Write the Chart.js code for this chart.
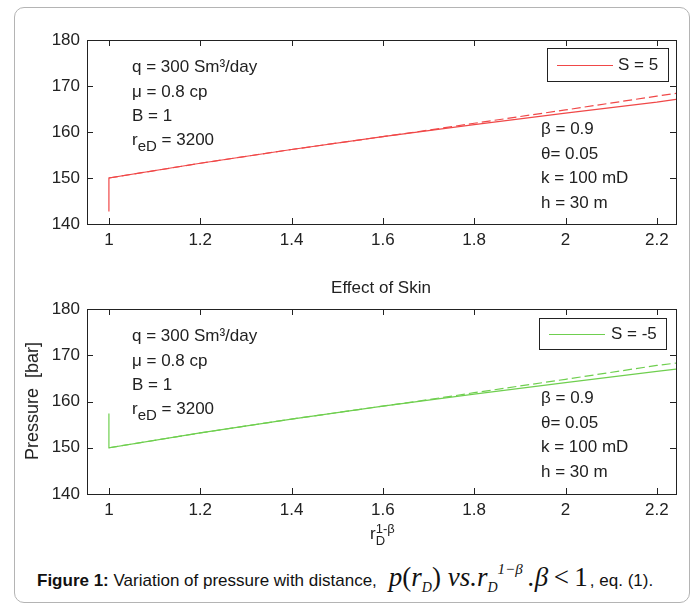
<!DOCTYPE html>
<html>
<head>
<meta charset="utf-8">
<script src="https://cdn.jsdelivr.net/npm/chart.js@4.4.1/dist/chart.umd.min.js"></script>
<style>
  body { margin: 0; background: #fff; }
  #wrap { position: relative; width: 696px; height: 605px; overflow: hidden; font-family: "Liberation Sans", Arial, sans-serif; color: #222; }
  .frame { position: absolute; left: 14px; top: 7px; width: 676px; height: 596px; border: 1px solid #b4b4b4; border-radius: 10px; box-sizing: border-box; }
  canvas { position: absolute; left: 0; }
  .t { position: absolute; font-size: 17px; line-height: 20px; white-space: nowrap; }
  .t sub { font-size: 15px; vertical-align: -6px; line-height: 0; }
  .legend { position: absolute; border: 1px solid #222; background: #fff; box-sizing: border-box; }
  .legend .ln { position: absolute; height: 0; border-top: 1px solid; }
  .legend .lt { position: absolute; font-size: 17px; line-height: 20px; }
  .caption { position: absolute; left: 37px; top: 562px; font-size: 17px; white-space: nowrap; color: #111; display: flex; align-items: baseline; }
  .math { font-family: "Liberation Serif", "DejaVu Serif", serif; font-style: italic; font-size: 27px; margin: 0 2px 0 12px; }
  .math .up { font-style: normal; }
  .math sub { font-size: 14px; vertical-align: -6px; line-height: 0; }
  .math sup { font-size: 15px; vertical-align: 12px; line-height: 0; }
</style>
</head>
<body>
<div id="wrap">
  <div class="frame"></div>
  <canvas id="topChart" width="696" height="260" style="top:0"></canvas>
  <canvas id="bottomChart" width="696" height="260" style="top:270px"></canvas>

  <!-- top panel notes -->
  <div class="t" style="left:132px;top:57px">q = 300 Sm³/day</div>
  <div class="t" style="left:132px;top:82px">μ = 0.8 cp</div>
  <div class="t" style="left:132px;top:106px">B = 1</div>
  <div class="t" style="left:132px;top:130px">r<sub>eD</sub> = 3200</div>
  <div class="t" style="left:541px;top:119px">β = 0.9</div>
  <div class="t" style="left:541px;top:144px">θ= 0.05</div>
  <div class="t" style="left:541px;top:168px">k = 100 mD</div>
  <div class="t" style="left:541px;top:193px">h = 30 m</div>
  <div class="legend" style="left:547px;top:48px;width:122px;height:34px">
    <div class="ln" style="left:9px;top:16px;width:56px;border-color:#f04848"></div>
    <div class="lt" style="left:70px;top:6px">S = 5</div>
  </div>

  <div class="t" style="left:0;width:762px;text-align:center;top:278px">Effect of Skin</div>

  <!-- bottom panel notes -->
  <div class="t" style="left:132px;top:326px">q = 300 Sm³/day</div>
  <div class="t" style="left:132px;top:351px">μ = 0.8 cp</div>
  <div class="t" style="left:132px;top:375px">B = 1</div>
  <div class="t" style="left:132px;top:399px">r<sub>eD</sub> = 3200</div>
  <div class="t" style="left:541px;top:388px">β = 0.9</div>
  <div class="t" style="left:541px;top:413px">θ= 0.05</div>
  <div class="t" style="left:541px;top:437px">k = 100 mD</div>
  <div class="t" style="left:541px;top:462px">h = 30 m</div>
  <div class="legend" style="left:539px;top:318px;width:128px;height:32px">
    <div class="ln" style="left:9px;top:15px;width:56px;border-color:#6fcf4f"></div>
    <div class="lt" style="left:71px;top:5px">S = -5</div>
  </div>

  <div class="t" style="left:32px;top:401px;font-size:18px;transform:translate(-50%,-50%) rotate(-90deg)">Pressure&nbsp;&nbsp;[bar]</div>
  <div class="t" style="left:370px;top:523px">r<span style="display:inline-block;vertical-align:-6px;line-height:12px;font-size:13px;"><span style="display:block">1-β</span><span style="display:block">D</span></span></div>

  <div class="caption">
    <b>Figure 1:</b>&nbsp;Variation of pressure with distance,
    <span class="math">p<span class="up">(</span>r<sub>D</sub><span class="up">)</span> vs.r<sub>D</sub><sup>1−β</sup>&thinsp;.β<span class="up">&thinsp;&lt;&thinsp;1</span></span>, eq. (1).
  </div>
</div>

<script>
// axis ticks
const xTicks = [1, 1.2, 1.4, 1.6, 1.8, 2, 2.2];
const xTickLabels = ["1", "1.2", "1.4", "1.6", "1.8", "2", "2.2"];
const yTicks = [140, 150, 160, 170, 180];

// r_D^(1-beta) values
const rD = [1, 1, 1.2, 1.4, 1.6, 1.8, 2.0, 2.2, 2.242];
const rDDash = [1, 1.2, 1.4, 1.6, 1.7, 1.8, 2.0, 2.2, 2.242];

// S = 5
const pSkinPos = [142.7, 150, 153.2, 156.2, 159.0, 161.6, 164.1, 166.5, 167.1];
const pSkinPosDash = [150, 153.2, 156.2, 159.0, 160.4, 161.9, 164.8, 167.8, 168.4];
// S = -5
const pSkinNeg = [157.4, 150, 153.2, 156.2, 159.0, 161.6, 164.1, 166.5, 167.0];
const pSkinNegDash = [150, 153.2, 156.2, 159.0, 160.4, 161.9, 164.8, 167.8, 168.3];

const toXY = (xs, ys) => xs.map((x, i) => ({ x: x, y: ys[i] }));

// box with inward ticks, MATLAB style
const boxPlugin = {
  id: "box",
  afterDraw(chart) {
    const { ctx, chartArea: a, scales } = chart;
    ctx.save();
    ctx.strokeStyle = "#222";
    ctx.lineWidth = 1;
    ctx.strokeRect(Math.round(a.left) + 0.5, Math.round(a.top) + 0.5,
      Math.round(a.right - a.left), Math.round(a.bottom - a.top));
    ctx.beginPath();
    xTicks.forEach(v => {
      const px = Math.round(scales.x.getPixelForValue(v)) + 0.5;
      ctx.moveTo(px, a.bottom); ctx.lineTo(px, a.bottom - 6);
      ctx.moveTo(px, a.top); ctx.lineTo(px, a.top + 6);
    });
    yTicks.forEach(v => {
      const py = Math.round(scales.y.getPixelForValue(v)) + 0.5;
      ctx.moveTo(a.left, py); ctx.lineTo(a.left + 6, py);
      ctx.moveTo(a.right, py); ctx.lineTo(a.right - 6, py);
    });
    ctx.stroke();
    ctx.restore();
  }
};

function makeChart(id, solid, dash, color, padTop) {
  return new Chart(document.getElementById(id), {
    type: "line",
    data: {
      datasets: [
        { data: toXY(rD, solid), borderColor: color, borderWidth: 1.2, pointRadius: 0, tension: 0 },
        { data: toXY(rDDash, dash), borderColor: color, borderWidth: 1.2, borderDash: [9, 4], pointRadius: 0, tension: 0 },
      ],
    },
    options: {
      responsive: false,
      animation: false,
      layout: { padding: { top: padTop, right: 20, bottom: 0, left: 0 } },
      plugins: { legend: { display: false }, tooltip: { enabled: false } },
      scales: {
        x: {
          type: "linear",
          min: 0.952,
          max: 2.242,
          grid: { display: false, drawTicks: false },
          border: { display: false },
          afterBuildTicks: s => { s.ticks = xTicks.map(v => ({ value: v })); },
          afterFit: s => { s.height = 36; },
          ticks: {
            padding: 6,
            color: "#222",
            font: { family: "Liberation Sans", size: 17 },
            callback: (v, i) => xTickLabels[i],
          },
        },
        y: {
          min: 140,
          max: 180,
          grid: { display: false, drawTicks: false },
          border: { display: false },
          afterBuildTicks: s => { s.ticks = yTicks.map(v => ({ value: v })); },
          afterFit: s => { s.width = 87; },
          ticks: {
            padding: 7,
            color: "#222",
            font: { family: "Liberation Sans", size: 17 },
          },
        },
      },
    },
    plugins: [boxPlugin],
  });
}

makeChart("topChart", pSkinPos, pSkinPosDash, "#f04848", 40);
makeChart("bottomChart", pSkinNeg, pSkinNegDash, "#6fcf4f", 39);
</script>
</body>
</html>
